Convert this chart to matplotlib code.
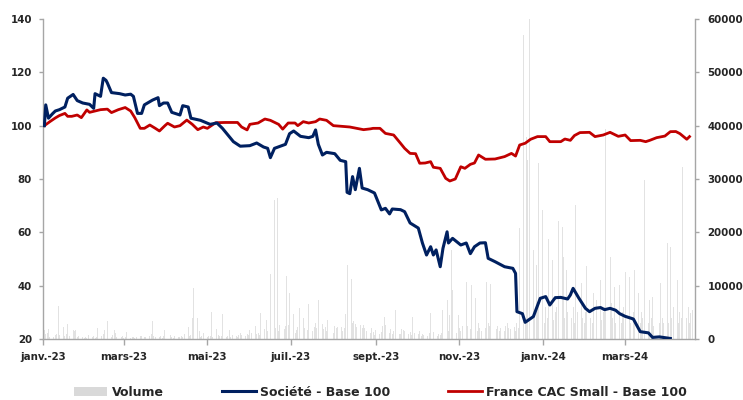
import matplotlib
matplotlib.use("Agg")
import matplotlib.pyplot as plt
import pandas as pd
from matplotlib.patches import Patch
from matplotlib.lines import Line2D

# ---------------- data ----------------
blue_dates = ["2023-01-02","2023-01-03","2023-01-05","2023-01-08","2023-01-10","2023-01-13","2023-01-17",
    "2023-01-19","2023-01-23","2023-01-26","2023-01-30","2023-02-04","2023-02-07","2023-02-08","2023-02-12",
    "2023-02-14","2023-02-16","2023-02-17","2023-02-20","2023-02-26","2023-03-02","2023-03-06","2023-03-08",
    "2023-03-11","2023-03-14","2023-03-16","2023-03-22","2023-03-26","2023-03-27","2023-03-30","2023-04-02",
    "2023-04-05","2023-04-11","2023-04-13","2023-04-17","2023-04-19","2023-04-26","2023-05-03","2023-05-08",
    "2023-05-12","2023-05-16","2023-05-20","2023-05-25","2023-06-01","2023-06-06","2023-06-11","2023-06-14",
    "2023-06-16","2023-06-19","2023-06-27","2023-06-30","2023-07-03","2023-07-08","2023-07-14","2023-07-17",
    "2023-07-19","2023-07-21","2023-07-24","2023-07-27","2023-08-02","2023-08-06","2023-08-10","2023-08-11",
    "2023-08-13","2023-08-15","2023-08-17","2023-08-20","2023-08-22","2023-08-26","2023-08-31","2023-09-05",
    "2023-09-08","2023-09-11","2023-09-13","2023-09-19","2023-09-22","2023-09-26","2023-10-02","2023-10-05",
    "2023-10-08","2023-10-11","2023-10-13","2023-10-15","2023-10-18","2023-10-20","2023-10-23","2023-10-24",
    "2023-10-27","2023-11-02","2023-11-06","2023-11-09","2023-11-12","2023-11-16","2023-11-20","2023-11-22",
    "2023-11-27","2023-12-04","2023-12-10","2023-12-12","2023-12-13","2023-12-17","2023-12-19","2023-12-25",
    "2023-12-30","2024-01-03","2024-01-06","2024-01-10","2024-01-14","2024-01-19","2024-01-21","2024-01-23",
    "2024-01-27","2024-02-01","2024-02-04","2024-02-08","2024-02-12","2024-02-15","2024-02-19","2024-02-23",
    "2024-02-26","2024-03-01","2024-03-07","2024-03-10","2024-03-12","2024-03-18","2024-03-21","2024-03-26",
    "2024-04-03"]
blue_vals = [100, 107.8, 102.8, 104.5, 105.5, 106, 107,
    110.3, 111.7, 109.4, 108.5, 108, 106.5, 112, 111,
    117.8, 117, 116, 112.4, 112, 111.5, 111.8, 111,
    104.6, 104.6, 107.8, 109.6, 110.5, 107.5, 108.5, 108.5,
    105, 104, 107.5, 107, 102.8, 102, 100.5, 101,
    99, 96.5, 94, 92.3, 92.5, 93.5, 92, 91.5,
    88, 91.5, 93, 97, 98, 96, 95.5, 96,
    98.4, 93, 89, 90, 89.5, 87, 86.5, 75,
    74.5, 80.9, 76, 84, 76.6, 76, 74.75, 68.4,
    69, 66.9, 68.75, 68.5, 67.75, 63.5, 61.6, 56,
    51.5, 54.6, 51.5, 53.4, 47.1, 54, 60.2, 56,
    57.75, 55.25, 56, 52, 54.6, 56, 56.1, 50.25,
    49, 47.1, 46.5, 44.6, 30.25, 29.5, 26.25, 28.4,
    35.25, 35.9, 32.75, 35.5, 35.6, 35, 36.5, 39,
    35.5, 31.5, 30.25, 31.5, 31.8, 31, 31.5, 30.8,
    29.5, 28.5, 27.5, 24.6, 22.75, 22.3, 20.6, 20.8,
    20.2]

red_dates = ["2023-01-02","2023-01-06","2023-01-10","2023-01-13","2023-01-17","2023-01-19","2023-01-22",
    "2023-01-26","2023-01-29","2023-02-02","2023-02-04","2023-02-08","2023-02-12","2023-02-17","2023-02-20",
    "2023-02-25","2023-03-02","2023-03-06","2023-03-09","2023-03-13","2023-03-16","2023-03-20","2023-03-24",
    "2023-03-27","2023-03-31","2023-04-02","2023-04-07","2023-04-11","2023-04-16","2023-04-20","2023-04-24",
    "2023-04-28","2023-05-01","2023-05-07","2023-05-14","2023-05-23","2023-05-26","2023-05-30","2023-06-01",
    "2023-06-07","2023-06-12","2023-06-16","2023-06-22","2023-06-25","2023-06-29","2023-07-04","2023-07-06",
    "2023-07-10","2023-07-14","2023-07-19","2023-07-22","2023-07-27","2023-08-01","2023-08-06","2023-08-13",
    "2023-08-18","2023-08-23","2023-08-28","2023-08-30","2023-09-04","2023-09-08","2023-09-14","2023-09-19",
    "2023-09-22","2023-09-26","2023-09-30","2023-10-03","2023-10-07","2023-10-11","2023-10-13","2023-10-18",
    "2023-10-22","2023-10-25","2023-10-29","2023-11-02","2023-11-05","2023-11-09","2023-11-12","2023-11-15",
    "2023-11-20","2023-11-27","2023-12-04","2023-12-09","2023-12-12","2023-12-15","2023-12-19","2023-12-23",
    "2023-12-28","2024-01-03","2024-01-06","2024-01-14","2024-01-17","2024-01-21","2024-01-24","2024-01-28",
    "2024-02-04","2024-02-08","2024-02-14","2024-02-19","2024-02-25","2024-03-01","2024-03-05","2024-03-12",
    "2024-03-16","2024-03-19","2024-03-24","2024-03-30","2024-04-03","2024-04-07","2024-04-10","2024-04-15",
    "2024-04-17"]
red_vals = [100, 101.5, 102.9, 103.8, 104.6, 103.5, 103.5,
    104, 103, 105.9, 105, 105.5, 106, 106.2, 104.9,
    106, 106.8, 105.5, 103, 99, 99, 100.25, 99,
    98, 100, 100.9, 99.5, 100, 102.1, 100.5, 98.5,
    99.5, 99, 101.1, 101.2, 101.2, 99.5, 98.4, 100.5,
    101, 102.5, 102, 100.5, 98.7, 101, 101, 100,
    101.5, 101, 101.5, 102.5, 102, 100, 99.8, 99.5,
    99, 98.5, 98.8, 99, 99, 97.1, 96.5, 93.4,
    91.5, 89.6, 89.5, 85.9, 86, 86.5, 84.4, 84,
    80.25, 79.25, 80, 84.6, 84, 85.5, 86, 89,
    87.4, 87.5, 88.4, 89.6, 88.6, 92.75, 93.4, 94.9,
    95.9, 95.9, 94, 94, 95, 94.5, 96.3, 97.4,
    97.5, 95.9, 96.5, 97.5, 96, 96.5, 94.4, 94.5,
    94, 94.5, 95.5, 96.1, 97.75, 97.8, 97, 94.9,
    95.9]

# daily traded volume, one row per week (Mon..Fri), from 2023-01-02
volume_weeks = [
    [1700, 900, 1200, 1800, 400], [300, 800, 1000, 6200, 700], [2300, 500, 900, 2800, 600],
    [1700, 1500, 1700, 400, 600], [300, 200, 400, 200, 800], [300, 600, 200, 400, 2000],
    [500, 1000, 1600, 700, 3400], [400, 700, 1700, 1100, 400], [300, 500, 200, 300, 1400],
    [200, 300, 400, 200, 300], [500, 600, 1900, 300, 400], [600, 900, 3400, 500, 400],
    [300, 600, 200, 500, 1700], [400, 800, 300, 200, 500], [300, 400, 600, 300, 1000],
    [2300, 600, 800, 4000, 9500], [4000, 1500, 400, 600, 1100], [300, 500, 600, 5100, 400],
    [1900, 700, 500, 600, 4700], [300, 600, 1700, 400, 700], [500, 400, 800, 1100, 700],
    [600, 900, 800, 1700, 1200], [2500, 1000, 1200, 800, 4900], [1800, 3600, 1500, 2000, 12200],
    [26000, 2000, 26400, 1500, 2700], [1800, 2400, 11800, 2600, 8600], [4700, 1200, 1700, 2200, 5900],
    [3900, 2000, 2400, 1600, 6600], [1500, 2300, 3000, 2000, 7300], [2900, 1800, 2200, 1500, 3600],
    [1500, 1100, 2400, 2000, 2300], [2300, 1500, 2000, 4700, 13900], [11200, 3000, 3300, 2800, 2200],
    [2600, 2000, 2700, 2100, 1500], [1200, 2000, 1400, 800, 1700], [900, 1400, 2500, 4100, 2600],
    [1200, 1800, 900, 1500, 5500], [1000, 900, 1800, 1600, 1500], [900, 1400, 800, 4100, 1200],
    [900, 1500, 600, 1000, 800], [600, 1200, 4900, 700, 1400], [600, 1000, 800, 1200, 5400],
    [7300, 1500, 4500, 16700, 9200], [1200, 4500, 2000, 1500, 2500], [10700, 2500, 6700, 1800, 10100],
    [7600, 1500, 3000, 2000, 1500], [2000, 10700, 3000, 2500, 10400], [3000, 1800, 2500, 1500, 2000],
    [1500, 2500, 3000, 2000, 1800], [2200, 1500, 3000, 2000, 20800], [57000, 4000, 37900, 33600, 60000],
    [16700, 5000, 13900, 7000, 33000], [24200, 3000, 6000, 4000, 18800], [14800, 3500, 5000, 6000, 22200],
    [21000, 15400, 4000, 12900, 5000], [4000, 6000, 3000, 25100, 5000], [10500, 4000, 3000, 5000, 13600],
    [4000, 3000, 8600, 5000, 7300], [11000, 3500, 5000, 6000, 39400], [15400, 6700, 4000, 9800, 3000],
    [10100, 3000, 5000, 6000, 12600], [11700, 3000, 4000, 5000, 12900], [8600, 3000, 5000, 4000, 29900],
    [3000, 7300, 4000, 7900, 2500], [22900, 3000, 10500, 4000, 3000], [18000, 3000, 17300, 4000, 6000],
    [11000, 3000, 5000, 4000, 32300], [4000, 6000, 3000, 4800, 5500],
]

tick_dates = ["2023-01-01", "2023-03-01", "2023-05-01", "2023-07-01", "2023-09-01",
              "2023-11-01", "2024-01-01", "2024-03-01"]
tick_labels = ["janv.-23", "mars-23", "mai-23", "juil.-23", "sept.-23",
               "nov.-23", "janv.-24", "mars-24"]

left_ticks = [20, 40, 60, 80, 100, 120, 140]
right_ticks = [0, 10000, 20000, 30000, 40000, 50000, 60000]

series_names = ["Volume", "Société - Base 100", "France CAC Small - Base 100"]

# ---------------- plot ----------------
BLUE = "#002060"
RED = "#C00000"
GREY_BAR = "#e2e2e2"
GREY_LEG = "#d9d9d9"
SPINE = "#a6a6a6"
TXT = "#262626"

plt.rcParams["font.family"] = ["DejaVu Sans"]

fig = plt.figure(figsize=(7.43, 4.0), dpi=100)
ax = fig.add_axes([43 / 743, 1 - 339 / 400, (695 - 43) / 743, (339 - 19) / 400])
ax2 = ax.twinx()

vol_vals = [v for week in volume_weeks for v in week]
vol_dates = pd.bdate_range("2023-01-02", periods=len(vol_vals))
ax2.bar(vol_dates, vol_vals, width=0.7, color=GREY_BAR, linewidth=0, zorder=1)

bd = pd.to_datetime(blue_dates)
rd = pd.to_datetime(red_dates)
ax.plot(rd, red_vals, color=RED, lw=2.0, solid_joinstyle="round", zorder=3)
ax.plot(bd, blue_vals, color=BLUE, lw=2.2, solid_joinstyle="round", zorder=4)

ax.set_zorder(ax2.get_zorder() + 1)
ax.patch.set_visible(False)

ax.set_xlim(pd.Timestamp("2023-01-01"), pd.Timestamp("2024-04-21"))
ax.set_ylim(20, 140)
ax2.set_ylim(0, 60000)

ax.set_xticks(pd.to_datetime(tick_dates))
ax.set_xticklabels(tick_labels)
ax.set_yticks(left_ticks)
ax2.set_yticks(right_ticks)
ax2.set_yticklabels([str(t) for t in right_ticks])

for a in (ax, ax2):
    for s in a.spines.values():
        s.set_color(SPINE)
        s.set_linewidth(1.0)
    a.spines["top"].set_visible(False)

ax.spines["right"].set_visible(False)
ax2.spines["left"].set_visible(False)
ax2.spines["bottom"].set_visible(False)

ax.tick_params(axis="x", direction="out", length=4, width=1, color=SPINE, pad=5,
               labelsize=7.4, labelcolor=TXT)
ax.tick_params(axis="y", direction="out", length=3, width=1, color=SPINE, pad=5,
               labelsize=7.4, labelcolor=TXT)
ax2.tick_params(axis="y", direction="out", length=3, width=1, color=SPINE, pad=6,
                labelsize=7.4, labelcolor=TXT)
for lab in ax.get_xticklabels() + ax.get_yticklabels() + ax2.get_yticklabels():
    lab.set_fontweight("bold")

handles = [Patch(facecolor=GREY_LEG, edgecolor="none"),
           Line2D([], [], color=BLUE, lw=2.2),
           Line2D([], [], color=RED, lw=2.0)]
leg = fig.legend(handles, series_names, loc="center", bbox_to_anchor=(0.512, 1 - 392 / 400),
                 ncol=3, frameon=False, handlelength=2.7, handleheight=0.75, handletextpad=0.35,
                 columnspacing=4.65, borderaxespad=0, borderpad=0,
                 prop={"weight": "bold", "size": 9})
for t in leg.get_texts():
    t.set_color(TXT)

fig.savefig("out.png", dpi=100)
